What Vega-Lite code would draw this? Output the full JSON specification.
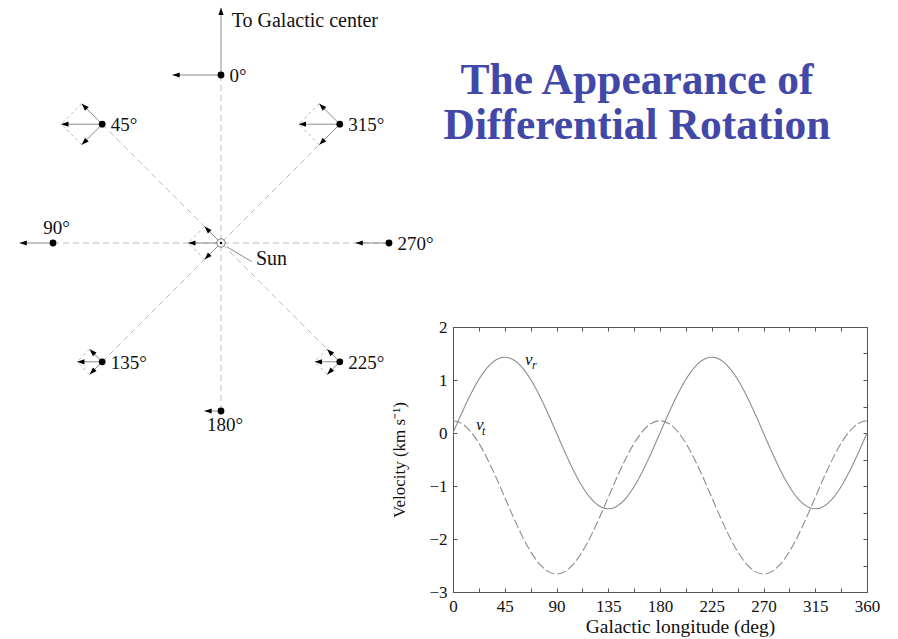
{
  "$schema": "https://vega.github.io/schema/vega-lite/v6.json",
  "width": 414,
  "height": 265,
  "autosize": {"type": "none"},
  "padding": {"left": 453, "top": 327, "right": 31, "bottom": 47},
  "background": "white",
  "config": {
    "font": "Liberation Serif",
    "view": {"stroke": "#555555", "strokeWidth": 1},
    "axis": {
      "domain": false,
      "grid": false,
      "labelFont": "Liberation Serif",
      "titleFont": "Liberation Serif",
      "labelColor": "#111111",
      "titleColor": "#111111",
      "titleFontWeight": "normal",
      "tickColor": "#555555",
      "labelFontSize": 17,
      "tickSize": -4
    }
  },
  "title": {
    "text": ["The Appearance of", "Differential Rotation"],
    "anchor": "middle",
    "frame": "group",
    "baseline": "alphabetic",
    "offset": -175,
    "dx": -23,
    "font": "Liberation Serif",
    "fontSize": 43.5,
    "fontWeight": "bold",
    "color": "#4248A8",
    "lineHeight": 45
  },
  "datasets": {
    "curves": [
      {"lon": 0, "series": "vr", "v": 0}, {"lon": 7.5, "series": "vr", "v": 0.370}, {"lon": 15, "series": "vr", "v": 0.715}, {"lon": 22.5, "series": "vr", "v": 1.011},
      {"lon": 30, "series": "vr", "v": 1.238}, {"lon": 37.5, "series": "vr", "v": 1.381}, {"lon": 45, "series": "vr", "v": 1.43}, {"lon": 52.5, "series": "vr", "v": 1.381},
      {"lon": 60, "series": "vr", "v": 1.238}, {"lon": 67.5, "series": "vr", "v": 1.011}, {"lon": 75, "series": "vr", "v": 0.715}, {"lon": 82.5, "series": "vr", "v": 0.370},
      {"lon": 90, "series": "vr", "v": 0}, {"lon": 97.5, "series": "vr", "v": -0.370}, {"lon": 105, "series": "vr", "v": -0.715}, {"lon": 112.5, "series": "vr", "v": -1.011},
      {"lon": 120, "series": "vr", "v": -1.238}, {"lon": 127.5, "series": "vr", "v": -1.381}, {"lon": 135, "series": "vr", "v": -1.43}, {"lon": 142.5, "series": "vr", "v": -1.381},
      {"lon": 150, "series": "vr", "v": -1.238}, {"lon": 157.5, "series": "vr", "v": -1.011}, {"lon": 165, "series": "vr", "v": -0.715}, {"lon": 172.5, "series": "vr", "v": -0.370},
      {"lon": 180, "series": "vr", "v": 0}, {"lon": 187.5, "series": "vr", "v": 0.370}, {"lon": 195, "series": "vr", "v": 0.715}, {"lon": 202.5, "series": "vr", "v": 1.011},
      {"lon": 210, "series": "vr", "v": 1.238}, {"lon": 217.5, "series": "vr", "v": 1.381}, {"lon": 225, "series": "vr", "v": 1.43}, {"lon": 232.5, "series": "vr", "v": 1.381},
      {"lon": 240, "series": "vr", "v": 1.238}, {"lon": 247.5, "series": "vr", "v": 1.011}, {"lon": 255, "series": "vr", "v": 0.715}, {"lon": 262.5, "series": "vr", "v": 0.370},
      {"lon": 270, "series": "vr", "v": 0}, {"lon": 277.5, "series": "vr", "v": -0.370}, {"lon": 285, "series": "vr", "v": -0.715}, {"lon": 292.5, "series": "vr", "v": -1.011},
      {"lon": 300, "series": "vr", "v": -1.238}, {"lon": 307.5, "series": "vr", "v": -1.381}, {"lon": 315, "series": "vr", "v": -1.43}, {"lon": 322.5, "series": "vr", "v": -1.381},
      {"lon": 330, "series": "vr", "v": -1.238}, {"lon": 337.5, "series": "vr", "v": -1.011}, {"lon": 345, "series": "vr", "v": -0.715}, {"lon": 352.5, "series": "vr", "v": -0.370},
      {"lon": 360, "series": "vr", "v": 0},
      {"lon": 0, "series": "vt", "v": 0.230}, {"lon": 7.5, "series": "vt", "v": 0.181}, {"lon": 15, "series": "vt", "v": 0.036}, {"lon": 22.5, "series": "vt", "v": -0.193},
      {"lon": 30, "series": "vt", "v": -0.493}, {"lon": 37.5, "series": "vt", "v": -0.841}, {"lon": 45, "series": "vt", "v": -1.215}, {"lon": 52.5, "series": "vt", "v": -1.589},
      {"lon": 60, "series": "vt", "v": -1.938}, {"lon": 67.5, "series": "vt", "v": -2.237}, {"lon": 75, "series": "vt", "v": -2.466}, {"lon": 82.5, "series": "vt", "v": -2.611},
      {"lon": 90, "series": "vt", "v": -2.66}, {"lon": 97.5, "series": "vt", "v": -2.611}, {"lon": 105, "series": "vt", "v": -2.466}, {"lon": 112.5, "series": "vt", "v": -2.237},
      {"lon": 120, "series": "vt", "v": -1.938}, {"lon": 127.5, "series": "vt", "v": -1.589}, {"lon": 135, "series": "vt", "v": -1.215}, {"lon": 142.5, "series": "vt", "v": -0.841},
      {"lon": 150, "series": "vt", "v": -0.493}, {"lon": 157.5, "series": "vt", "v": -0.193}, {"lon": 165, "series": "vt", "v": 0.036}, {"lon": 172.5, "series": "vt", "v": 0.181},
      {"lon": 180, "series": "vt", "v": 0.230}, {"lon": 187.5, "series": "vt", "v": 0.181}, {"lon": 195, "series": "vt", "v": 0.036}, {"lon": 202.5, "series": "vt", "v": -0.193},
      {"lon": 210, "series": "vt", "v": -0.493}, {"lon": 217.5, "series": "vt", "v": -0.841}, {"lon": 225, "series": "vt", "v": -1.215}, {"lon": 232.5, "series": "vt", "v": -1.589},
      {"lon": 240, "series": "vt", "v": -1.938}, {"lon": 247.5, "series": "vt", "v": -2.237}, {"lon": 255, "series": "vt", "v": -2.466}, {"lon": 262.5, "series": "vt", "v": -2.611},
      {"lon": 270, "series": "vt", "v": -2.66}, {"lon": 277.5, "series": "vt", "v": -2.611}, {"lon": 285, "series": "vt", "v": -2.466}, {"lon": 292.5, "series": "vt", "v": -2.237},
      {"lon": 300, "series": "vt", "v": -1.938}, {"lon": 307.5, "series": "vt", "v": -1.589}, {"lon": 315, "series": "vt", "v": -1.215}, {"lon": 322.5, "series": "vt", "v": -0.841},
      {"lon": 330, "series": "vt", "v": -0.493}, {"lon": 337.5, "series": "vt", "v": -0.193}, {"lon": 345, "series": "vt", "v": 0.036}, {"lon": 352.5, "series": "vt", "v": 0.181},
      {"lon": 360, "series": "vt", "v": 0.230}
    ],
    "stars": [
      {"lon": 0, "label": "0°", "x": 0, "y": 1},
      {"lon": 45, "label": "45°", "x": -0.7071, "y": 0.7071},
      {"lon": 90, "label": "90°", "x": -1, "y": 0},
      {"lon": 135, "label": "135°", "x": -0.7071, "y": -0.7071},
      {"lon": 180, "label": "180°", "x": 0, "y": -1},
      {"lon": 225, "label": "225°", "x": 0.7071, "y": -0.7071},
      {"lon": 270, "label": "270°", "x": 1, "y": 0},
      {"lon": 315, "label": "315°", "x": 0.7071, "y": 0.7071}
    ],
    "sun": [{"name": "Sun", "x": 0, "y": 0}],
    "leader": [{"x": 0.034, "y": -0.022, "x2": 0.183, "y2": -0.111}],
    "arrows": [
      {"obj": "center", "part": "direction", "x": 0, "y": 1, "x2": 0, "y2": 1.4},
      {"obj": "0", "part": "velocity", "x": 0, "y": 1, "x2": -0.289, "y2": 1},
      {"obj": "45", "part": "velocity", "x": -0.7071, "y": 0.7071, "x2": -0.951, "y2": 0.7071},
      {"obj": "45", "part": "radial", "x": -0.7071, "y": 0.7071, "x2": -0.829, "y2": 0.829},
      {"obj": "45", "part": "tangential", "x": -0.7071, "y": 0.7071, "x2": -0.829, "y2": 0.585},
      {"obj": "90", "part": "velocity", "x": -1, "y": 0, "x2": -1.199, "y2": 0},
      {"obj": "135", "part": "velocity", "x": -0.7071, "y": -0.7071, "x2": -0.856, "y2": -0.7071},
      {"obj": "135", "part": "tangential", "x": -0.7071, "y": -0.7071, "x2": -0.782, "y2": -0.632},
      {"obj": "135", "part": "radial", "x": -0.7071, "y": -0.7071, "x2": -0.782, "y2": -0.782},
      {"obj": "180", "part": "velocity", "x": 0, "y": -1, "x2": -0.099, "y2": -1},
      {"obj": "225", "part": "velocity", "x": 0.7071, "y": -0.7071, "x2": 0.558, "y2": -0.7071},
      {"obj": "225", "part": "radial", "x": 0.7071, "y": -0.7071, "x2": 0.632, "y2": -0.632},
      {"obj": "225", "part": "tangential", "x": 0.7071, "y": -0.7071, "x2": 0.632, "y2": -0.782},
      {"obj": "270", "part": "velocity", "x": 1, "y": 0, "x2": 0.801, "y2": 0},
      {"obj": "315", "part": "velocity", "x": 0.7071, "y": 0.7071, "x2": 0.463, "y2": 0.7071},
      {"obj": "315", "part": "tangential", "x": 0.7071, "y": 0.7071, "x2": 0.585, "y2": 0.829},
      {"obj": "315", "part": "radial", "x": 0.7071, "y": 0.7071, "x2": 0.585, "y2": 0.585},
      {"obj": "Sun", "part": "velocity", "x": 0, "y": 0, "x2": -0.195, "y2": 0},
      {"obj": "Sun", "part": "upper", "x": 0, "y": 0, "x2": -0.0975, "y2": 0.0975},
      {"obj": "Sun", "part": "lower", "x": 0, "y": 0, "x2": -0.0975, "y2": -0.0975}
    ],
    "edges": [
      {"obj": "45", "x": -0.829, "y": 0.829, "x2": -0.951, "y2": 0.7071},
      {"obj": "45", "x": -0.829, "y": 0.585, "x2": -0.951, "y2": 0.7071},
      {"obj": "135", "x": -0.782, "y": -0.632, "x2": -0.856, "y2": -0.7071},
      {"obj": "135", "x": -0.782, "y": -0.782, "x2": -0.856, "y2": -0.7071},
      {"obj": "225", "x": 0.632, "y": -0.632, "x2": 0.558, "y2": -0.7071},
      {"obj": "225", "x": 0.632, "y": -0.782, "x2": 0.558, "y2": -0.7071},
      {"obj": "315", "x": 0.585, "y": 0.829, "x2": 0.463, "y2": 0.7071},
      {"obj": "315", "x": 0.585, "y": 0.585, "x2": 0.463, "y2": 0.7071},
      {"obj": "Sun", "x": -0.0975, "y": 0.0975, "x2": -0.195, "y2": 0},
      {"obj": "Sun", "x": -0.0975, "y": -0.0975, "x2": -0.195, "y2": 0}
    ]
  },
  "layer": [
    {
      "layer": [
        {
          "data": {"name": "curves"},
          "mark": {"type": "line", "color": "#8c8c8c", "strokeWidth": 1.1, "interpolate": "monotone"},
          "encoding": {
            "x": {
              "field": "lon", "type": "quantitative",
              "scale": {"domain": [0, 360], "nice": false, "zero": false},
              "axis": {
                "orient": "bottom", "title": "Galactic longitude (deg)", "titleFontSize": 19.5, "titlePadding": 3, "titleX": 227,
                "values": [0, 22.5, 45, 67.5, 90, 112.5, 135, 157.5, 180, 202.5, 225, 247.5, 270, 292.5, 315, 337.5, 360],
                "labelExpr": "datum.value % 45 == 0 ? datum.label : ''", "format": "d",
                "labelPadding": 10, "labelFlush": false
              }
            },
            "y": {
              "field": "v", "type": "quantitative",
              "scale": {"domain": [-3, 2], "nice": false, "zero": false},
              "axis": {
                "orient": "left", "title": "Velocity (km s⁻¹)", "titleFontSize": 17, "titlePadding": 20,
                "values": [-3, -2.5, -2, -1.5, -1, -0.5, 0, 0.5, 1, 1.5, 2],
                "labelExpr": "datum.value % 1 == 0 ? datum.label : ''", "format": "d",
                "labelPadding": 10
              }
            },
            "strokeDash": {
              "field": "series", "type": "nominal",
              "scale": {"domain": ["vr", "vt"], "range": [[1, 0], [9, 3]]},
              "legend": null
            }
          }
        },
        {
          "data": {"name": "curves"},
          "mark": {"type": "point", "opacity": 0},
          "encoding": {
            "x": {
              "field": "lon", "type": "quantitative",
              "scale": {"domain": [0, 360], "nice": false, "zero": false},
              "axis": {"orient": "top", "title": null, "labels": false,
                "values": [0, 22.5, 45, 67.5, 90, 112.5, 135, 157.5, 180, 202.5, 225, 247.5, 270, 292.5, 315, 337.5, 360]}
            },
            "y": {
              "field": "v", "type": "quantitative",
              "scale": {"domain": [-3, 2], "nice": false, "zero": false},
              "axis": {"orient": "right", "title": null, "labels": false,
                "values": [-3, -2.5, -2, -1.5, -1, -0.5, 0, 0.5, 1, 1.5, 2]}
            }
          }
        },
        {
          "data": {"name": "curves"},
          "transform": [{"filter": "datum.series == 'vr' && datum.lon == 60"}],
          "mark": {"type": "text", "text": "v", "fontStyle": "italic", "fontSize": 17, "align": "left", "baseline": "alphabetic", "dx": 3, "dy": -2.4, "color": "#111111"},
          "encoding": {
            "x": {"field": "lon", "type": "quantitative", "axis": null},
            "y": {"field": "v", "type": "quantitative", "axis": null}
          }
        },
        {
          "data": {"name": "curves"},
          "transform": [{"filter": "datum.series == 'vr' && datum.lon == 60"}],
          "mark": {"type": "text", "text": "r", "fontStyle": "italic", "fontSize": 12, "align": "left", "baseline": "alphabetic", "dx": 10, "dy": 1.6, "color": "#111111"},
          "encoding": {
            "x": {"field": "lon", "type": "quantitative", "axis": null},
            "y": {"field": "v", "type": "quantitative", "axis": null}
          }
        },
        {
          "data": {"name": "curves"},
          "transform": [{"filter": "datum.series == 'vt' && datum.lon == 22.5"}],
          "mark": {"type": "text", "text": "v", "fontStyle": "italic", "fontSize": 17, "align": "left", "baseline": "alphabetic", "dx": -3, "dy": -13, "color": "#111111"},
          "encoding": {
            "x": {"field": "lon", "type": "quantitative", "axis": null},
            "y": {"field": "v", "type": "quantitative", "axis": null}
          }
        },
        {
          "data": {"name": "curves"},
          "transform": [{"filter": "datum.series == 'vt' && datum.lon == 22.5"}],
          "mark": {"type": "text", "text": "t", "fontStyle": "italic", "fontSize": 12, "align": "left", "baseline": "alphabetic", "dx": 3, "dy": -8, "color": "#111111"},
          "encoding": {
            "x": {"field": "lon", "type": "quantitative", "axis": null},
            "y": {"field": "v", "type": "quantitative", "axis": null}
          }
        }
      ],
      "resolve": {"axis": {"x": "independent", "y": "independent"}}
    },
    {
      "encoding": {
        "x": {"field": "x", "type": "quantitative", "scale": {"domain": [1.38095, 3.84524], "nice": false, "zero": false}, "axis": null},
        "y": {"field": "y", "type": "quantitative", "scale": {"domain": [-2.07738, -0.5], "nice": false, "zero": false}, "axis": null}
      },
      "layer": [
        {
          "data": {"name": "stars"},
          "mark": {"type": "rule", "color": "#bdbdbd", "strokeWidth": 1, "strokeDash": [6, 4]},
          "encoding": {"x2": {"datum": 0}, "y2": {"datum": 0}}
        },
        {
          "data": {"name": "edges"},
          "mark": {"type": "rule", "color": "#b5b5b5", "strokeWidth": 1, "strokeDash": [3, 3]},
          "encoding": {"x2": {"field": "x2"}, "y2": {"field": "y2"}}
        },
        {
          "data": {"name": "arrows"},
          "mark": {"type": "rule", "color": "#8a8a8a", "strokeWidth": 1},
          "encoding": {"x2": {"field": "x2"}, "y2": {"field": "y2"}}
        },
        {
          "data": {"name": "arrows"},
          "transform": [{"calculate": "90 - atan2(datum.y2 - datum.y, datum.x2 - datum.x) * 180 / PI", "as": "heading"}],
          "mark": {"type": "point", "shape": "M0,0L-0.36,1L0.36,1Z", "filled": true, "color": "#000000", "opacity": 1, "size": 210},
          "encoding": {
            "x": {"field": "x2", "type": "quantitative", "axis": null},
            "y": {"field": "y2", "type": "quantitative", "axis": null},
            "angle": {"field": "heading", "type": "quantitative", "scale": null}
          }
        },
        {
          "data": {"name": "leader"},
          "mark": {"type": "rule", "color": "#8a8a8a", "strokeWidth": 1},
          "encoding": {"x2": {"field": "x2"}, "y2": {"field": "y2"}}
        },
        {
          "data": {"name": "stars"},
          "mark": {"type": "point", "shape": "circle", "filled": true, "color": "#000000", "opacity": 1, "size": 46}
        },
        {
          "data": {"name": "sun"},
          "mark": {"type": "point", "shape": "circle", "filled": false, "fill": "white", "stroke": "#777777", "strokeWidth": 1, "opacity": 1, "size": 70}
        },
        {
          "data": {"name": "sun"},
          "mark": {"type": "point", "shape": "circle", "filled": true, "color": "#000000", "opacity": 1, "size": 6}
        },
        {
          "data": {"name": "sun"},
          "mark": {"type": "text", "fontSize": 20, "align": "left", "baseline": "alphabetic", "dx": 35, "dy": 22, "color": "#111111"},
          "encoding": {"text": {"field": "name"}}
        },
        {
          "data": {"name": "stars"},
          "transform": [{"filter": "datum.lon == 0"}],
          "mark": {"type": "text", "text": "To Galactic center", "fontSize": 20, "align": "left", "baseline": "alphabetic", "dx": 10.7, "dy": -48.3, "color": "#111111"}
        },
        {
          "data": {"name": "stars"},
          "transform": [{"filter": "datum.lon != 90 && datum.lon != 180"}],
          "mark": {"type": "text", "fontSize": 19, "align": "left", "baseline": "middle", "dx": 8.5, "dy": 1, "color": "#111111"},
          "encoding": {"text": {"field": "label"}}
        },
        {
          "data": {"name": "stars"},
          "transform": [{"filter": "datum.lon == 90"}],
          "mark": {"type": "text", "fontSize": 19, "align": "center", "baseline": "middle", "dx": 3.5, "dy": -14.5, "color": "#111111"},
          "encoding": {"text": {"field": "label"}}
        },
        {
          "data": {"name": "stars"},
          "transform": [{"filter": "datum.lon == 180"}],
          "mark": {"type": "text", "fontSize": 19, "align": "center", "baseline": "middle", "dx": 4, "dy": 13.5, "color": "#111111"},
          "encoding": {"text": {"field": "label"}}
        }
      ]
    }
  ],
  "resolve": {"scale": {"x": "independent", "y": "independent"}}
}
